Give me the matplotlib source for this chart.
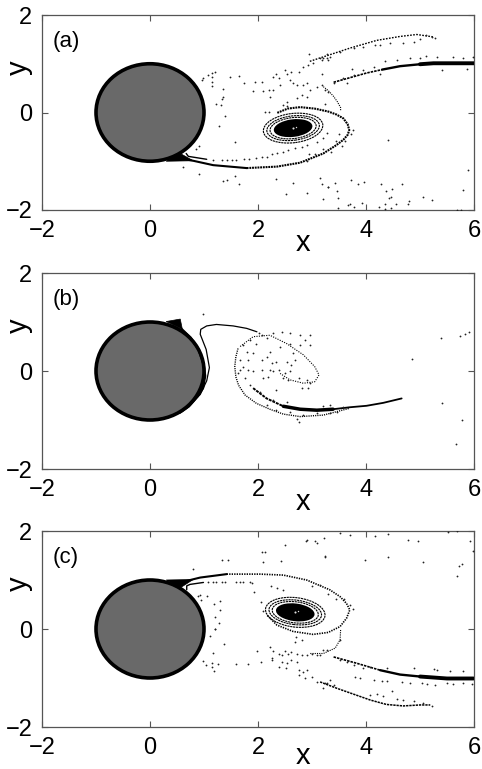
import numpy as np
import matplotlib
matplotlib.use('Agg')
import matplotlib.pyplot as plt
from matplotlib.patches import Circle, Ellipse, Polygon

plt.rcParams['font.family'] = ['Liberation Sans', 'DejaVu Sans']

x_ticks = [-2, 0, 2, 4, 6]
y_ticks = [-2, 0, 2]
panel_names = ['(a)', '(b)', '(c)']
radius = 1.0

# ---- panel a
a_tail = [(0.56, -0.94), (0.80, -0.99), (1.17, -1.08), (1.79, -1.14)]
a_tail_dots = [(1.79, -1.14), (2.35, -1.11), (2.78, -1.03), (3.21, -0.84), (3.45, -0.67), (3.58, -0.56), (3.66, -0.46),
               (3.69, -0.36), (3.66, -0.24), (3.58, -0.12), (3.45, -0.04), (3.30, 0.02), (3.05, 0.08), (2.78, 0.11),
               (2.55, 0.08), (2.35, -0.01)]
a_hook = [(0.67, -0.84), (0.71, -0.90), (1.05, -0.96)]
a_wedge = [(0.30, -1.0), (0.56, -0.84), (0.80, -0.99)]
a_upper = [(3.40, 0.62), (4.01, 0.81), (4.30, 0.88)]
a_upper_mid = [(4.30, 0.88), (4.63, 0.95), (5.00, 0.99)]
a_upper_thick = [(5.00, 0.99), (5.25, 1.01), (6.0, 1.01)]
a_second = [(2.96, 1.05), (3.70, 1.32), (4.20, 1.48), (4.63, 1.56), (4.94, 1.60), (5.25, 1.55)]
a_inner = [(3.21, 0.53), (3.30, 0.45), (3.40, 0.33), (3.47, 0.22), (3.53, 0.10), (3.53, 0.03)]
a_dots = [(1.20, 0.84), (1.15, 0.82), (1.07, 0.76), (0.99, 0.70), (0.97, 0.66), (1.14, 0.72), (1.14, 0.63),
          (1.14, 0.54), (1.48, 0.73), (1.65, 0.75), (1.74, 0.60), (1.94, 0.63), (2.07, 0.63), (1.36, 0.49),
          (1.91, 0.44), (2.09, 0.45), (2.21, 0.46), (2.27, 0.46), (2.22, 0.31), (1.36, 0.32), (1.34, 0.27),
          (1.22, 0.18), (1.31, 0.15), (2.13, 0.01), (2.20, 0.01), (2.28, 0.72), (2.34, 0.80), (2.39, 0.70),
          (2.41, 0.56), (2.50, 0.87), (2.53, 0.80), (2.61, 0.84), (2.75, 0.84), (2.84, 0.94), (2.93, 0.97),
          (3.02, 1.01), (2.94, 1.19), (3.15, 1.11), (3.27, 1.21), (3.21, 1.11), (3.30, 1.08), (2.59, 0.66),
          (2.65, 0.60), (2.72, 0.56), (2.84, 0.56), (2.90, 0.60), (2.96, 0.46), (3.09, 0.53), (3.18, 0.56),
          (3.24, 0.46), (3.30, 0.42), (2.72, 0.29), (2.81, 0.36), (2.90, 0.32), (2.53, 0.22), (2.53, 0.14),
          (2.47, 0.15), (3.18, 0.80), (3.24, 0.18),
          (1.39, -0.07), (1.28, -0.27), (1.57, -0.60), (0.91, -0.68), (0.85, -0.75), (0.62, -1.11), (0.91, -1.27),
          (1.36, -1.41), (1.42, -1.39), (1.57, -1.31), (1.65, -1.46), (2.33, -1.37), (2.65, -1.44), (2.52, -1.68),
          (2.91, -1.66), (3.20, -1.78), (3.15, -1.34), (3.18, -1.47), (3.30, -1.53),
          (1.17, -0.98), (1.33, -0.98), (1.42, -0.98), (1.51, -0.98), (1.60, -0.98), (1.74, -0.96), (1.83, -0.96),
          (1.97, -0.93), (2.07, -0.91), (2.16, -0.91), (2.25, -0.86), (2.35, -0.84), (2.47, -0.81), (2.56, -0.77),
          (2.68, -0.72), (2.81, -0.70), (2.90, -0.67), (3.09, -0.60), (3.21, -0.53), (3.27, -0.43),
          (4.40, -0.57), (5.88, -1.17), (5.79, -1.59), (3.29, -1.53), (3.42, -1.44), (3.72, -1.39), (3.85, -1.46),
          (3.96, -1.42), (4.27, -1.46), (4.66, -1.46), (3.46, -1.61), (4.37, -1.61), (4.48, -1.56), (3.48, -1.75),
          (4.43, -1.75), (4.46, -1.73), (4.80, -1.81), (4.77, -1.87), (5.06, -1.74), (5.23, -1.80), (3.92, -1.85),
          (3.71, -1.87), (3.67, -1.90), (3.77, -1.94), (3.48, -1.96), (4.24, -1.94), (4.35, -1.88), (4.55, -1.88),
          (4.35, -1.98), (4.46, -1.96), (5.69, -1.99), (5.76, -1.99),
          (5.28, 1.52), (5.22, 1.55), (5.12, 1.59), (5.00, 1.51), (4.88, 1.45), (4.69, 1.42), (4.45, 1.42),
          (4.26, 1.38), (4.17, 1.38), (3.95, 1.35), (3.77, 1.32), (3.52, 1.25), (3.34, 1.14), (3.18, 1.08),
          (3.27, 1.11), (5.99, 1.14), (5.80, 1.11), (5.62, 1.14), (5.31, 1.14), (5.12, 1.16), (5.00, 1.12),
          (4.82, 1.11), (4.57, 1.08), (4.35, 1.05), (4.14, 0.94), (3.95, 0.87), (3.77, 0.77), (3.58, 0.70),
          (3.74, 0.90), (3.40, 0.60), (5.40, 0.87), (5.87, 0.90), (4.26, 0.80), (3.64, 0.60),
          (2.90, -1.00), (3.05, -0.85), (3.20, -0.75), (3.35, -0.82), (3.45, -0.58), (3.55, -0.68), (3.62, -0.58),
          (3.72, -0.45), (3.75, -0.35), (2.95, -0.85), (3.50, -0.45)]

# ---- panel b
b_wedge = [(0.30, 1.01), (0.56, 1.06), (0.60, 0.85)]
b_arc = [(0.59, 0.85), (0.75, 0.68), (0.90, 0.44), (0.99, 0.15), (1.02, -0.10), (0.98, -0.35),
         (0.88, -0.52), (0.72, -0.72), (0.55, -0.85)]
b_strand = [(0.77, -0.65), (0.93, -0.48), (1.05, -0.20), (1.10, 0.07), (1.04, 0.44), (0.93, 0.75),
            (0.94, 0.85), (1.05, 0.92), (1.23, 0.95), (1.54, 0.92), (1.79, 0.87), (1.98, 0.80)]
b_outer = [(1.63, 0.46), (1.59, 0.29), (1.57, 0.09), (1.59, -0.12), (1.64, -0.29), (1.76, -0.49), (1.97, -0.66),
           (2.22, -0.78), (2.47, -0.88), (2.78, -0.93), (3.21, -0.90), (3.70, -0.76)]
b_streak_thin = [(1.91, -0.35), (2.16, -0.56), (2.47, -0.72)]
b_streak = [(2.47, -0.72), (2.78, -0.78), (3.09, -0.80), (3.39, -0.78)]
b_streak_end = [(3.39, -0.78), (3.70, -0.74), (4.01, -0.71), (4.32, -0.65), (4.66, -0.56)]
b_spiral = [(1.67, 0.50), (1.91, 0.70), (2.22, 0.73), (2.53, 0.56), (2.84, 0.33), (3.05, 0.09), (3.13, -0.08),
            (3.05, -0.22), (2.84, -0.25), (2.59, -0.18), (2.41, -0.05)]
b_dots = [(1.73, 0.53), (1.79, 0.39), (1.85, 0.63), (1.97, 0.56), (2.07, 0.73), (2.16, 0.67), (2.28, 0.77),
          (2.44, 0.80), (2.59, 0.77), (2.78, 0.73), (2.87, 0.63), (2.96, 0.53), (2.78, 0.53), (2.59, 0.56),
          (2.41, 0.50), (2.22, 0.39), (2.16, 0.29), (2.07, 0.22), (1.91, 0.36), (1.82, 0.22), (1.73, 0.09),
          (1.67, 0.22), (1.82, 0.02), (1.91, -0.01), (2.07, 0.02), (2.22, 0.02), (2.28, -0.01), (2.38, 0.02),
          (2.50, -0.05), (2.59, -0.01), (2.65, 0.36), (2.68, 0.22), (2.53, 0.19), (2.62, 0.12), (2.25, 0.16),
          (2.34, 0.19), (1.76, -0.15), (1.85, -0.29), (2.10, -0.15), (2.19, -0.12), (2.34, -0.39), (2.75, -0.15),
          (2.90, -0.18), (2.96, -0.25), (2.93, -0.35), (2.81, -0.35), (2.56, -0.18), (2.47, -0.15), (1.67, 0.02),
          (1.63, -0.05), (2.01, 0.77), (2.96, 0.73),
          (0.99, 1.16), (4.86, 0.24), (5.39, 0.68), (5.74, 0.71), (5.83, 0.75), (5.91, 0.80), (5.40, -0.65),
          (5.77, -0.99), (5.66, -1.48), (2.75, -1.05),
          (2.16, -0.69), (2.34, -0.80), (2.59, -0.83), (2.84, -0.90), (3.09, -0.86), (3.33, -0.86), (3.46, -0.83),
          (2.72, -0.97), (2.04, -0.42), (2.28, -0.59), (2.53, -0.63), (3.21, -0.72), (3.33, -0.69), (3.58, -0.73)]

# ---- panel c
c_wedge = [(0.30, 1.0), (0.56, 0.84), (0.80, 1.01)]
c_tail = [(0.56, 0.95), (0.93, 1.05), (1.42, 1.12)]
c_tail_dots = [(1.42, 1.12), (2.04, 1.12), (2.47, 1.10), (2.90, 1.00), (3.33, 0.80), (3.52, 0.66), (3.64, 0.52),
               (3.70, 0.39), (3.64, 0.22), (3.52, 0.05), (3.30, -0.07), (3.02, -0.11), (2.65, -0.05), (2.35, 0.08),
               (2.16, 0.29)]
c_hook = [(0.68, 0.80), (0.68, 0.88), (0.74, 0.91), (0.99, 0.95)]
c_inner = [(3.53, -0.02), (3.52, -0.22), (3.43, -0.39), (3.21, -0.50), (2.96, -0.50)]
c_lower = [(3.40, -0.57), (3.83, -0.70), (4.26, -0.84)]
c_lower_mid = [(4.26, -0.84), (4.63, -0.93), (5.00, -0.97)]
c_lower_thick = [(5.00, -0.97), (5.50, -1.01), (5.99, -1.01)]
c_second = [(3.15, -1.08), (3.46, -1.21), (3.77, -1.33), (4.08, -1.45), (4.38, -1.54), (4.69, -1.57),
            (5.00, -1.55), (5.19, -1.55)]
c_dots = [(2.50, 1.71), (2.89, 1.80), (3.10, 1.76), (3.22, 1.86), (3.24, 1.47), (2.07, 1.57), (2.13, 1.57),
          (1.33, 1.40), (1.45, 1.40), (2.10, 1.37), (2.43, 1.39), (0.79, 1.23),
          (0.93, 0.69), (0.88, 0.67), (1.06, 0.67), (0.94, 0.59), (1.19, 0.52), (1.30, 0.57), (1.30, 0.38),
          (1.20, 0.24), (1.28, 0.13), (1.20, -0.01), (1.93, 0.76), (2.05, 0.55), (2.24, 0.88), (2.36, 0.83),
          (2.47, 0.79), (2.09, 0.37),
          (1.08, 0.95), (1.17, 0.96), (1.23, 0.96), (1.33, 0.96), (1.39, 0.96), (1.60, 0.96), (1.67, 0.96),
          (1.72, 0.96), (1.85, 0.95), (1.88, 0.93),
          (1.20, 0.00), (1.11, -0.14), (1.37, -0.31), (1.16, -0.48), (1.99, -0.44), (0.99, -0.65), (1.04, -0.74),
          (1.15, -0.70), (1.15, -0.77), (1.25, -0.72), (1.18, -0.85), (1.60, -0.72), (1.82, -0.72), (2.06, -0.67),
          (2.22, -0.36), (2.28, -0.45), (2.25, -0.60), (2.38, -0.50), (2.44, -0.53), (2.50, -0.45), (2.56, -0.50),
          (2.62, -0.46), (2.72, -0.50), (2.81, -0.53), (2.90, -0.53), (3.00, -0.50), (3.09, -0.53), (3.15, -0.53),
          (3.21, -0.43), (3.27, -0.43), (2.25, -0.63), (2.44, -0.67), (2.53, -0.70), (2.62, -0.63), (2.72, -0.68),
          (2.38, -0.77), (2.51, -0.80), (2.75, -0.84), (2.84, -0.87), (2.90, -0.84), (2.75, -0.94), (2.87, -1.01),
          (3.00, -0.97), (3.09, -1.08), (3.21, -1.21), (3.27, -1.11), (2.69, -0.26), (2.81, -0.23), (2.70, -0.16),
          (4.69, -1.45), (4.88, -1.47), (5.06, -1.50), (5.22, -1.57), (4.20, -1.33), (4.32, -1.36), (4.08, -1.35),
          (4.48, -1.26), (4.57, -1.43), (3.24, -1.11), (3.34, -1.04), (3.40, -1.14),
          (3.52, -0.63), (3.64, -0.67), (3.77, -0.74), (3.95, -0.80), (4.08, -0.77), (4.38, -0.80), (3.80, -0.97),
          (3.89, -1.00), (4.14, -1.04), (4.29, -1.06), (4.38, -1.06), (4.66, -1.09), (4.82, -1.11), (5.03, -1.11),
          (5.13, -1.13), (5.28, -1.14), (5.50, -1.11), (5.62, -1.13), (5.80, -1.11), (5.96, -1.13), (4.88, -0.80),
          (5.25, -0.82), (5.31, -0.84), (5.56, -0.86), (5.80, -0.86), (3.52, -0.23),
          (3.52, 1.95), (3.70, 1.92), (4.17, 1.90), (4.41, 1.93), (4.78, 1.82), (4.97, 1.80), (5.52, 1.97),
          (5.68, 1.99), (5.93, 1.80), (5.99, 1.59), (4.41, 1.46), (5.06, 1.37), (3.99, 1.41), (5.77, 1.32),
          (5.73, 1.29), (5.68, 1.09), (3.06, 1.80), (2.90, 1.82), (3.24, 1.48),
          (3.45, 0.62), (3.60, 0.62), (3.70, 0.50), (3.75, 0.40), (3.30, 0.72), (3.15, 0.90), (3.00, 0.88)]

# vortex: centre, ring widths and heights
vortex_a = (2.65, -0.32)
vortex_c = (2.69, 0.34)
ring_w = [1.11, 0.98, 0.86]
ring_h = [0.60, 0.50, 0.43]
core_w, core_h = 0.72, 0.36


def line(ax, pts, lw=1.0, ls='-'):
    p = np.array(pts)
    ax.plot(p[:, 0], p[:, 1], color='k', lw=lw, ls=ls, solid_capstyle='round', solid_joinstyle='round', zorder=3)


def specks(ax, pts):
    p = np.array(pts)
    ax.plot(p[:, 0], p[:, 1], ls='none', marker='o', ms=1.3, mew=0, color='#222222', zorder=3)


def vortex(ax, centre, tilt):
    for w, h in zip(ring_w, ring_h):
        ax.add_patch(Ellipse(centre, w, h, angle=tilt, fill=False, ec='k', lw=0.8, ls=(0, (2, 0.6))))
    ax.add_patch(Ellipse(centre, core_w, core_h, angle=tilt, fc='k', ec='none', zorder=3))
    ax.plot(centre[0], centre[1], 'o', ms=1.5, mew=0, color='#dddddd', zorder=4)
    ax.plot(centre[0] + 0.05, centre[1] + 0.03, 'o', ms=1, mew=0, color='#dddddd', zorder=4)


def setup(name, top, bottom, xpad=-9):
    ax = fig.add_axes([42 / 482, 1 - bottom / 769, 432 / 482, (bottom - top) / 769])
    ax.set_xlim(-2, 6)
    ax.set_ylim(-2, 2)
    ax.set_xticks(x_ticks)
    ax.set_yticks(y_ticks)
    ax.tick_params(direction='in', top=True, right=True, length=4, width=0.8, color='#555555',
                   labelsize=17, pad=7)
    for s in ax.spines.values():
        s.set_color('#555555')
        s.set_linewidth(0.9)
    ax.set_xlabel('x', fontsize=21, labelpad=xpad, x=0.605)
    ax.set_ylabel('y', fontsize=21, labelpad=-20, y=0.73)
    ax.text(-1.8, 1.45, name, fontsize=16, va='center', ha='left')
    # cylinder
    ax.add_patch(Circle((0, 0), radius, fc='#696969', ec='k', lw=2.6, zorder=2))
    return ax


fig = plt.figure(figsize=(4.82, 7.69), dpi=100)

ax = setup(panel_names[0], 15, 210)
ax.add_patch(Polygon(a_wedge, fc='k', ec='k', lw=0.5, zorder=3))
line(ax, a_tail, lw=1.5)
line(ax, a_tail_dots, lw=1.5, ls=(0, (0.9, 0.4)))
line(ax, a_hook, lw=1.0)
line(ax, a_upper, lw=1.2, ls=(0, (1.5, 0.6)))
line(ax, a_upper_mid, lw=1.7)
line(ax, a_upper_thick, lw=2.8)
line(ax, a_second, lw=1.0, ls=(0, (1.2, 1.0)))
line(ax, a_inner, lw=0.8, ls=(0, (1, 1)))
vortex(ax, vortex_a, 8)
specks(ax, a_dots)

ax = setup(panel_names[1], 273, 469)
ax.add_patch(Polygon(b_wedge, fc='k', ec='k', lw=0.5, zorder=3))
line(ax, b_arc, lw=1.8)
line(ax, b_strand, lw=0.9)
line(ax, b_outer, lw=1.0, ls=(0, (0.8, 0.8)))
line(ax, b_streak_thin, lw=1.4, ls=(0, (1.5, 0.5)))
line(ax, b_streak, lw=2.5)
line(ax, b_streak_end, lw=1.3)
line(ax, b_spiral, lw=0.8, ls=(0, (1, 1.2)))
specks(ax, b_dots)

ax = setup(panel_names[2], 531, 727, xpad=-12)
ax.add_patch(Polygon(c_wedge, fc='k', ec='k', lw=0.5, zorder=3))
line(ax, c_tail, lw=1.5)
line(ax, c_tail_dots, lw=1.2, ls=(0, (0.8, 0.7)))
line(ax, c_hook, lw=1.0)
line(ax, c_inner, lw=0.8, ls=(0, (1, 1)))
line(ax, c_lower, lw=1.2, ls=(0, (1.5, 0.6)))
line(ax, c_lower_mid, lw=1.7)
line(ax, c_lower_thick, lw=2.8)
line(ax, c_second, lw=1.1, ls=(0, (1.5, 0.6)))
vortex(ax, vortex_c, -8)
specks(ax, c_dots)

fig.savefig('out.png', dpi=100)
